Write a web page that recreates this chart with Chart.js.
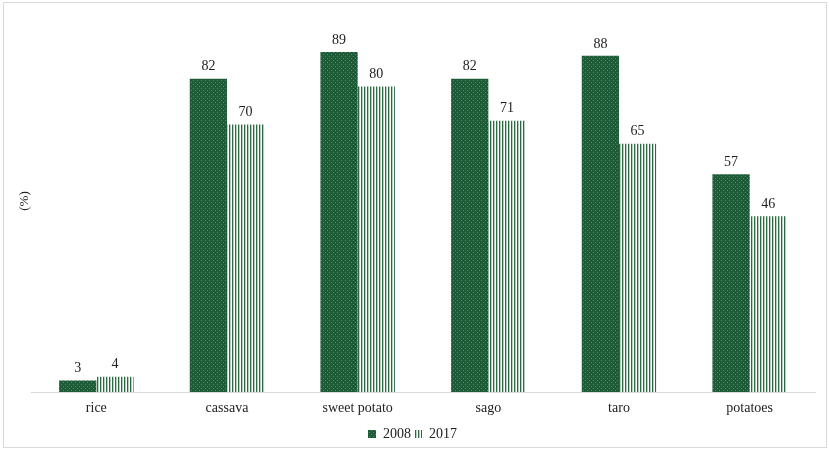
<!DOCTYPE html>
<html>
<head>
<meta charset="utf-8">
<script src="https://cdn.jsdelivr.net/npm/chart.js@4.4.1/dist/chart.umd.min.js"></script>
<style>
  body { margin: 0; background: #fff; overflow: hidden; }
  #frame { position: absolute; left: 3px; top: 2px; width: 822px; height: 444px; border: 1px solid #d9d9d9; }
  #holder { position: absolute; left: 4px; top: 7px; width: 822px; height: 444px; }
</style>
</head>
<body>
<div id="frame"></div>
<div id="holder"><canvas id="crops"></canvas></div>
<script>
/*-----------------------------
Data
------------------------------*/
const crops = ['rice', 'cassava', 'sweet potato', 'sago', 'taro', 'potatoes'];
const years = ['2008', '2017'];
const share2008 = [3, 82, 89, 82, 88, 57];
const share2017 = [4, 70, 80, 71, 65, 46];

//--------------------
//Fill patterns
//--------------------
function dotPattern() {
  let c = document.createElement('canvas');
  c.width = 4; c.height = 4;
  let g = c.getContext('2d');
  g.fillStyle = '#1d5c37';
  g.fillRect(0, 0, 4, 4);
  g.fillStyle = '#4f8a64';
  g.fillRect(1, 1, 1, 1);
  g.fillRect(3, 3, 1, 1);
  return g.createPattern(c, 'repeat');
}

function stripePattern() {
  let c = document.createElement('canvas');
  c.width = 3; c.height = 3;
  let g = c.getContext('2d');
  g.fillStyle = '#ffffff';
  g.fillRect(0, 0, 3, 3);
  g.fillStyle = '#2b6a42';
  g.fillRect(0, 0, 1, 3);
  g.fillStyle = '#b5cfbd';
  g.fillRect(1, 0, 1, 3);
  return g.createPattern(c, 'repeat');
}

//--------------------
//Value labels above bars
//--------------------
const valueLabels = {
  id: 'valueLabels',
  afterDatasetsDraw(chart) {
    const ctx = chart.ctx;
    ctx.save();
    ctx.font = '14px "Liberation Serif"';
    ctx.fillStyle = '#222';
    ctx.textAlign = 'center';
    ctx.textBaseline = 'bottom';
    chart.data.datasets.forEach((ds, i) => {
      chart.getDatasetMeta(i).data.forEach((bar, j) => {
        ctx.fillText(ds.data[j], bar.x, bar.y - 5);
      });
    });
    ctx.restore();
  }
};

const canvas = document.getElementById('crops');

new Chart(canvas, {
  type: 'bar',
  data: {
    labels: crops,
    datasets: [{
      label: years[0],
      data: share2008,
      backgroundColor: dotPattern(),
      categoryPercentage: 0.57,
      barPercentage: 1
    }, {
      label: years[1],
      data: share2017,
      backgroundColor: stripePattern(),
      categoryPercentage: 0.57,
      barPercentage: 1
    }]
  },
  options: {
    responsive: true,
    maintainAspectRatio: false,
    animation: false,
    layout: {
      padding: { left: 6, right: 11, top: 3, bottom: 0 }
    },
    scales: {
      x: {
        grid: { display: false },
        border: { display: true, color: '#d9d9d9', width: 1 },
        afterFit(scale) { scale.height = 32; },
        ticks: {
          color: '#222',
          padding: 0,
          font: { family: 'Liberation Serif', size: 14 }
        }
      },
      y: {
        min: 0,
        max: 100,
        grid: { display: false },
        border: { display: false },
        ticks: { display: false },
        afterFit(scale) { scale.width = 21; },
        title: {
          display: true,
          text: '(%)',
          color: '#222',
          padding: { top: 7, bottom: 0 },
          font: { family: 'Liberation Serif', size: 13 }
        }
      }
    },
    plugins: {
      legend: {
        position: 'bottom',
        labels: {
          boxWidth: 8,
          boxHeight: 8,
          padding: 3,
          color: '#222',
          font: { family: 'Liberation Serif', size: 14 }
        }
      },
      tooltip: { enabled: false }
    }
  },
  plugins: [valueLabels]
});
</script>
</body>
</html>
